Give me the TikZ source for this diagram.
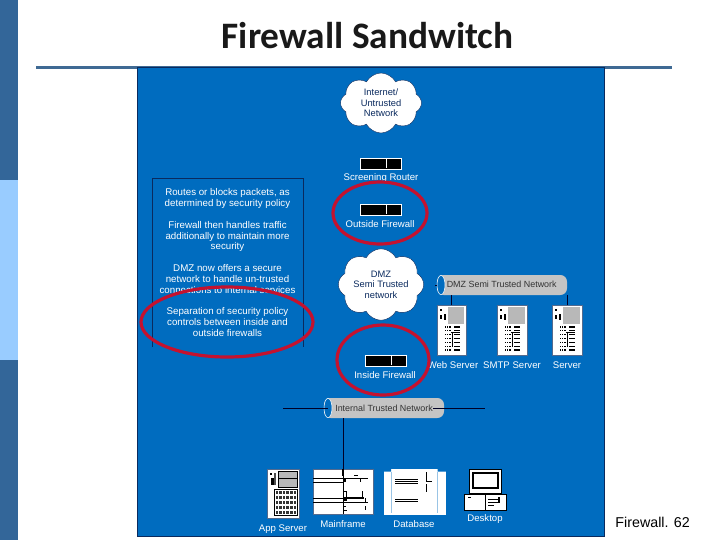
\documentclass[tikz,border=0pt]{standalone}
\usepackage{fontspec}
\setmainfont{Liberation Sans}
\newfontfamily\titlefont{Carlito}
\usetikzlibrary{shapes.symbols,shapes.geometric}
\definecolor{bandA}{HTML}{336699}
\definecolor{bandB}{HTML}{99CCFF}
\definecolor{ruleC}{HTML}{3F6A94}
\definecolor{panel}{HTML}{006CBF}
\definecolor{edge}{HTML}{0A2A5E}
\definecolor{pipe}{HTML}{C4C4C4}
\definecolor{ring}{HTML}{C4122F}
\definecolor{scr}{HTML}{B8B8B8}
\tikzset{
 x=0.75pt,y=-0.75pt,
 lbl/.style={text=white,font=\fontsize{7.2}{8}\selectfont,inner sep=0pt},
 note/.style={text=white,font=\fontsize{7.3}{8.1}\selectfont,inner sep=0pt,align=center},
 netcloud/.style={cloud,cloud puffs=8,cloud puff arc=125,aspect=1.35,draw=edge,fill=white,line width=0.3pt,minimum width=60.75pt,minimum height=45pt,inner sep=0pt,text=edge,font=\fontsize{7}{7.9}\selectfont,align=center},
 redring/.style={draw=ring,line width=2.4pt,ellipse,inner sep=0pt,fill=none},
 pipebody/.style={fill=pipe,rounded corners=5pt,inner sep=0pt},
 pipelabel/.style={text=black!80,font=\fontsize{6.7}{8}\selectfont,inner sep=0pt},
 wire/.style={draw=black!85!blue,line width=0.55pt},
 whitebox/.style={draw=edge!70,fill=white,line width=0.3pt,inner sep=0pt},
 fw/.style={fill=black,draw=white,line width=0.5pt,inner sep=0pt,minimum width=30.75pt,minimum height=8pt},
 thin line/.style={draw=black,line width=0.4pt},
 pipeend/.style={ellipse,draw=white,fill=panel,line width=0.4pt,minimum width=6pt,minimum height=14.5pt,inner sep=0pt},
}
\newcommand{\fwbox}[3]{%
 \node[fw,anchor=north west] (#1) at (#2,#3) {};
 \draw[white,line width=0.5pt] (#2+26,#3) -- (#2+26,#3+10);
}
% tower server: name, left, top, width, height
\newcommand{\towerbox}[5]{%
 \node[whitebox,anchor=north west,minimum width=#4*0.75pt,minimum height=#5*0.75pt] (#1) at (#2,#3) {};
 \begin{scope}[shift={(#2,#3)}]
  \fill[scr] (11,2) rectangle (#4-2,19);
  \fill[black] (3,4) rectangle (4.5,5.5);
  \fill[black] (3,10) rectangle (4.5,14);
  \fill[black] (7,9) rectangle (8.5,15);
  \foreach \r in {0,1,2,3,4,5,6}
   \foreach \c in {0,1,2,4.4,5.4,6.4}
    \fill[black] (8+\c*2.1,21+\r*3.9) rectangle ++(1.3,1.5);
  \draw[black,line width=0.6pt] (14,27) -- (23,27);
  \draw[black,line width=0.4pt] (15,27) -- (15,42);
 \end{scope}
}
\newcommand{\appbox}[5]{%
 \node[whitebox,anchor=north west,minimum width=#4*0.75pt,minimum height=#5*0.75pt] (#1) at (#2,#3) {};
 \begin{scope}[shift={(#2,#3)}]
  \filldraw[draw=black,line width=0.3pt,fill=scr] (11,2) rectangle (#4-2,18);
  \draw[black,line width=0.3pt] (11,9) -- (#4-2,9);
  \fill[black] (3,4) rectangle (4.5,6);
  \fill[black] (4,9) rectangle (7,16);
  \fill[black!70] (7,4) rectangle (9,16);
  \draw[black,line width=0.4pt] (7,20) rectangle (#4-2,46);
  \foreach \r in {0,1,2,3,4}
   \foreach \c in {0,1,2,3,4,5}
    \fill[black!80] (8.5+\c*3.6,22+\r*4.9) rectangle ++(2.6,3);
 \end{scope}
}
\begin{document}
\begin{tikzpicture}
\useasboundingbox (0,0) rectangle (720,540);
\fill[white] (0,0) rectangle (720,540);
\fill[bandA] (0,0) rectangle (18,180);
\fill[bandB] (0,180) rectangle (18,360);
\fill[bandA] (0,360) rectangle (18,540);
\fill[ruleC] (36,66) rectangle (672,69);
\node[inner sep=0pt,text=black!90,font=\titlefont\bfseries\fontsize{28}{30}\selectfont] (title) at (367.5,36) {Firewall Sandwitch};
\node[inner sep=0pt,text=black,font=\fontsize{10.7}{11}\selectfont,anchor=east] (foot) at (690,522.5) {Firewall. 62};
\filldraw[fill=panel,draw=edge,line width=0.7pt] (137.5,67.5) rectangle (604,536);
\draw[edge,line width=0.5pt] (152,347) -- (152,178) -- (303,178) -- (303,347);
\node[note] (n1) at (227.5,198.5) {Routes or blocks packets, as\\determined by security policy};
\node[note] (n2) at (227.5,236.5) {Firewall then handles traffic\\additionally to maintain more\\security};
\node[note] (n3) at (227.5,279) {DMZ now offers a secure\\network to handle un-trusted\\connections to internal services};
\node[note] (n4) at (227.5,322) {Separation of security policy\\controls between inside and\\outside firewalls};
\node[netcloud] (inet) at (381,103) {Internet/\\Untrusted\\Network};
\node[netcloud] (dmz) at (381,284.5) {DMZ\\Semi Trusted\\network};
\fwbox{router}{360}{158}
\node[lbl] (routerl) at (381,178.5) {Screening Router};
\fwbox{outfw}{360}{204}
\node[lbl] (outl) at (380,224) {Outside Firewall};
\fwbox{infw}{365}{355}
\node[lbl] (inl) at (385,375) {Inside Firewall};
\towerbox{web}{437}{305}{29}{50}
\towerbox{smtp}{497}{305}{30}{50}
\towerbox{srv}{552}{305}{30}{50}
\node[pipebody,minimum width=97.5pt,minimum height=15pt] (dmznet) at (502,285) {};
\node[pipeend] (dmzend) at (441,285) {};
\node[pipelabel,anchor=west] (dmzl) at (446.5,284.5) {DMZ Semi Trusted Network};
\draw[wire] (dmznet.south -| web.north) -- (web.north);
\draw[wire] (dmznet.south -| srv.north) -- (srv.north);
\draw[wire] (dmzend.west) -- ++(-2,0);
\node[lbl] (webl) at (453,365) {Web Server};
\node[lbl] (smtpl) at (512,365) {SMTP Server};
\node[lbl] (srvl) at (567,365) {Server};
\coordinate (ileft) at (283,408);
\coordinate (iright) at (485,408);
\node[pipebody,minimum width=90pt,minimum height=15pt] (intnet) at (384,408) {};
\node[pipeend] (intend) at (328,408) {};
\node[pipelabel,anchor=west] (intl) at (335,408) {Internal Trusted Network};
\draw[wire] (ileft) -- (intend.center);
\draw[wire] (intl.east) -- (iright);
\appbox{app}{267}{469}{32}{49}
\node[whitebox,anchor=north west,minimum width=45pt,minimum height=33.75pt] (main) at (313,469) {};
\node[whitebox,anchor=north west,minimum width=45.75pt,minimum height=33.75pt,draw=white] (db) at (384,469) {};
\draw[wire] (intnet.south -| main.north) -- (main.north);
\draw[thin line] (main.north) -- (main.south);
\fill[black] (342,469) rectangle (344,476);
\foreach \yy in {478,482,498,502} \draw[thin line] (313,\yy) -- (343,\yy);
\draw[thin line] (343,478) -- (368,478);
\draw[thin line,line width=0.9pt] (343,498) -- (364,498);
\draw[thin line] (343,502) -- (368,502);
\draw[thin line] (354,475) -- (358,475);
\draw[thin line,dashed] (360,478) -- (360,486);
\draw[thin line,dashed] (365,498) -- (365,512);
\draw[thin line] (346,491) -- (346,498) (344,491) -- (346,491) (362,491) -- (362,498);
\fill[black] (343,479) rectangle (346,482);
\fill[black] (343,498) rectangle (347,501);
\draw[thin line] (343,510) -- (347,510) (343,506) -- (346,506);
\draw[panel!40,line width=0.5pt] (391.5,472) -- (391.5,513) (437,472) -- (437,513);
\fill[panel] (384,469) rectangle (391,471.5) (437.5,469) rectangle (446,471.5);
\foreach \yy in {479,481,483,499,501} \draw[thin line] (395,\yy) -- (418,\yy);
\draw[thin line] (426,472) -- (426,481) -- (432,481);
\draw[thin line] (426,484) -- (426,492);
\node[whitebox,anchor=north west,draw=black,minimum width=24pt,minimum height=18pt] (mon) at (469,469) {};
\filldraw[draw=black,line width=1.1pt,fill=white] (473,473) rectangle (498,488);
\node[whitebox,anchor=north west,draw=black,minimum width=31.5pt,minimum height=12pt] (pc) at (464,494) {};
\draw[thin line] (468,497) -- (471,497);
\draw[thin line] (485.5,495) -- (485.5,510);
\draw[thin line,line width=0.7pt] (488,499) -- (498,499) (488,502) -- (498,502) (488,505) -- (494,505);
\fill[black] (498,497) rectangle (500,503);
\node[lbl] (appl) at (283,529) {App Server};
\node[lbl] (mainl) at (343,524) {Mainframe};
\node[lbl] (dbl) at (414,524.5) {Database};
\node[lbl] (dtl) at (485,519) {Desktop};
\node[redring,minimum width=70.5pt,minimum height=46.5pt] (r1) at (380,213) {};
\node[redring,minimum width=129pt,minimum height=52.5pt] (r2) at (227,322) {};
\node[redring,minimum width=69pt,minimum height=52.5pt] (r3) at (383,360) {};
\end{tikzpicture}
\end{document}
